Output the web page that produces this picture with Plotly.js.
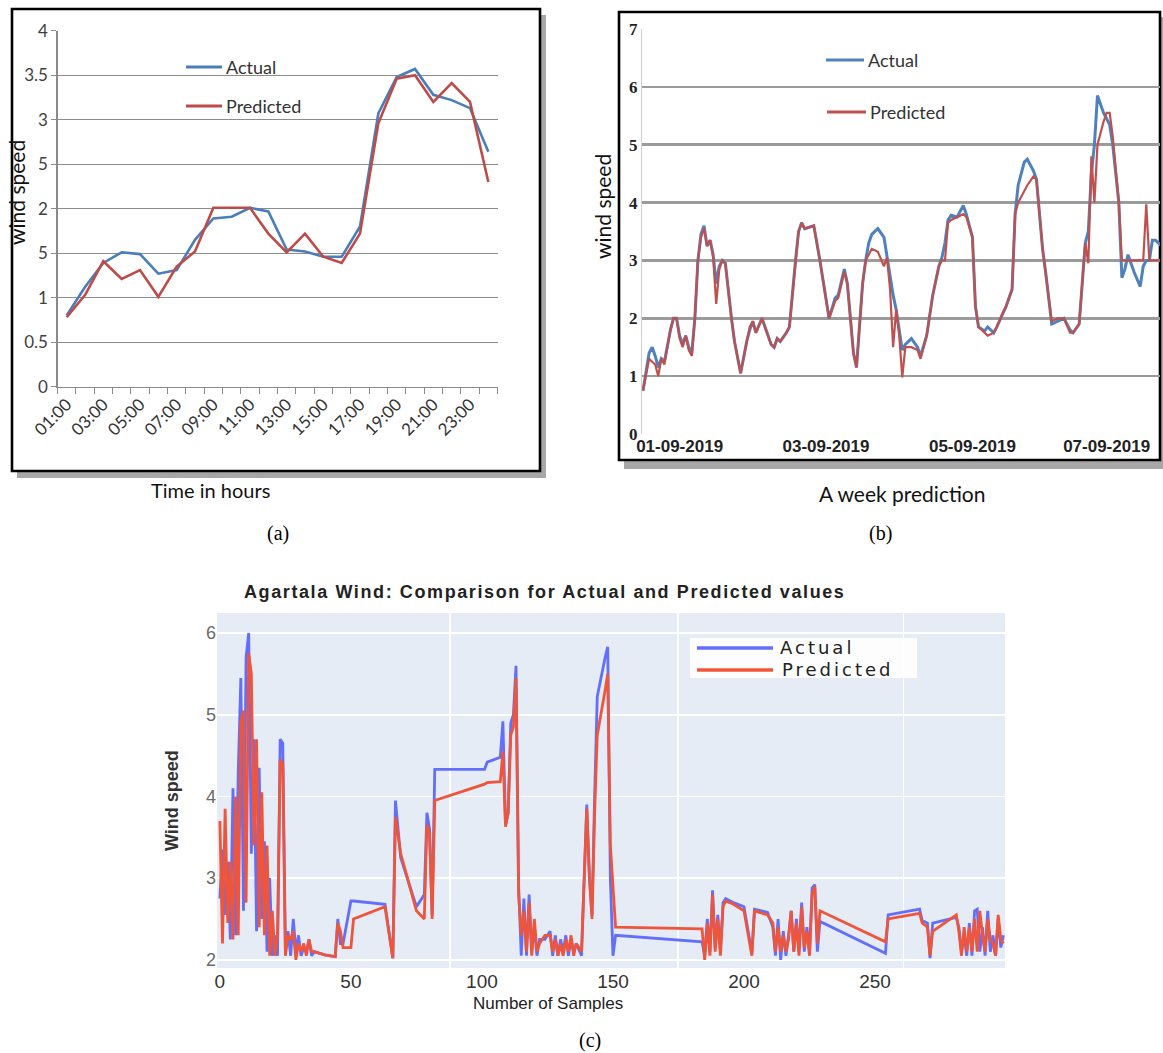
<!DOCTYPE html>
<html>
<head>
<meta charset="utf-8">
<script src="https://cdn.plot.ly/plotly-3.0.1.min.js"></script>
<style>html,body{margin:0;padding:0;background:#fff;}#chart{width:1163px;height:1053px;}</style>
</head>
<body>
<div id="chart"></div>
<script>
// ---------- Panel (a): one day, hourly ----------
const hourLabels = ["01:00","02:00","03:00","04:00","05:00","06:00","07:00","08:00","09:00","10:00","11:00","12:00",
                    "13:00","14:00","15:00","16:00","17:00","18:00","19:00","20:00","21:00","22:00","23:00","24:00"];
const aActual    = [0.80,1.12,1.39,1.51,1.49,1.27,1.31,1.65,1.89,1.91,2.01,1.97,
                    1.54,1.52,1.46,1.46,1.80,3.07,3.48,3.57,3.28,3.22,3.13,2.64];
const aPredicted = [0.78,1.03,1.41,1.21,1.31,1.01,1.35,1.52,2.01,2.01,2.01,1.72,
                    1.51,1.72,1.46,1.39,1.72,2.96,3.46,3.50,3.20,3.41,3.20,2.30];
const aYTickVals = [0,0.5,1,1.5,2,2.5,3,3.5,4];
const aYTickText = ["0","0.5","1","5","2","5","3","3.5","4"];

// ---------- Panel (b): a week, hour index ----------
const bHour = [0,2,3,4,5,6,7,9,10,11,
  12,13,14,15,16,17,18,19,20,21,
  22,23,24,25,26,27,29,30,32,34,
  35,36,37,39,42,43,44,45,47,48,
  50,51,52,53,56,58,61,62,63,64,
  66,67,69,70,72,73,74,75,77,79,
  80,81,82,83,84,85,86,88,90,91,
  93,95,97,98,99,100,101,103,105,106,
  108,109,110,112,113,115,116,118,119,121,
  122,123,125,126,128,129,131,132,134,136,
  138,140,141,143,145,146,147,148,149,151,
  152,153,154,156,157,158,159,161,163,164,
  165,166,167,168,170];
const bActual = [0.75,1.40,1.50,1.35,1.15,1.30,1.25,1.80,2.00,2.00,
  1.70,1.55,1.70,1.50,1.40,2.00,3.00,3.45,3.60,3.25,
  3.35,3.10,2.60,2.90,3.00,2.95,2.00,1.60,1.05,1.60,
  1.80,1.95,1.75,2.00,1.55,1.50,1.65,1.60,1.75,1.85,
  3.00,3.50,3.65,3.55,3.60,3.00,2.00,2.20,2.35,2.40,
  2.85,2.60,1.40,1.15,2.60,3.00,3.30,3.45,3.55,3.40,
  3.05,2.70,2.40,2.15,1.80,1.45,1.55,1.65,1.50,1.35,
  1.70,2.40,2.90,3.05,3.30,3.70,3.78,3.75,3.95,3.80,
  3.40,2.20,1.85,1.78,1.85,1.75,1.85,2.10,2.20,2.50,
  3.80,4.30,4.70,4.75,4.55,4.40,3.20,2.80,1.90,1.95,
  2.00,1.80,1.75,1.90,3.30,3.50,4.50,5.00,5.85,5.55,
  5.45,5.35,5.00,4.00,2.70,2.85,3.10,2.80,2.55,2.90,
  3.00,3.00,3.35,3.35,3.25];
const bPredicted = [0.75,1.30,1.25,1.20,1.00,1.30,1.20,1.80,2.00,2.00,
  1.65,1.50,1.70,1.45,1.35,2.00,3.00,3.40,3.55,3.25,
  3.35,3.05,2.25,2.85,3.00,2.95,2.00,1.60,1.05,1.60,
  1.85,1.95,1.75,2.00,1.55,1.50,1.65,1.60,1.75,1.85,
  3.00,3.50,3.65,3.55,3.60,3.00,2.00,2.15,2.30,2.35,
  2.80,2.60,1.40,1.15,2.60,3.00,3.10,3.20,3.15,2.90,
  3.05,2.50,1.50,2.15,1.70,0.98,1.50,1.50,1.45,1.30,
  1.70,2.40,2.90,3.00,3.00,3.65,3.70,3.75,3.80,3.75,
  3.40,2.20,1.85,1.75,1.70,1.75,1.85,2.10,2.20,2.50,
  3.80,4.00,4.20,4.30,4.45,4.40,3.20,2.80,1.95,2.00,
  2.00,1.75,1.75,1.90,3.30,2.95,4.80,4.00,5.00,5.40,
  5.55,5.55,5.15,4.00,3.00,3.00,3.00,3.00,3.00,3.00,
  3.97,3.00,3.00,3.00,3.00];
const bTickHours  = [12,60,108,152];
const bTickLabels = ["01-09-2019","03-09-2019","05-09-2019","07-09-2019"];

// ---------- Panel (c): Agartala samples ----------
const cSample = [0,1,2,3,4,5,6,7,8,9,
  10,11,12,13,14,15,16,17,18,19,
  20,21,22,23,24,25,26,27,28,29,
  30,31,32,33,34,35,36,38,40,44,
  45,46,47,50,51,63,66,67,68,69,
  75,78,79,80,81,82,101,102,107,108,
  109,110,111,112,113,114,115,116,117,118,
  119,120,121,122,124,126,127,128,129,130,
  131,132,133,134,135,136,138,140,141,142,
  143,144,147,148,149,150,151,184,185,186,
  187,188,189,190,191,192,193,196,200,203,
  204,209,211,212,213,214,215,216,217,218,
  219,220,221,222,223,224,225,226,227,228,
  229,254,255,267,268,270,271,272,281,282,
  283,284,285,286,287,288,289,290,291,292,
  293,294,295,296,297,298,299];
const cActual = [2.75,3.35,2.55,3.20,2.25,4.10,2.30,4.30,5.45,2.60,
  5.70,6.00,3.30,4.70,2.35,4.35,2.50,3.45,2.10,3.00,
  2.05,2.30,2.05,4.70,4.65,2.10,2.35,2.05,2.50,2.10,
  2.30,2.05,2.15,2.10,2.25,2.05,2.10,2.08,2.06,2.04,
  2.50,2.20,2.20,2.72,2.72,2.68,2.02,3.95,3.60,3.25,
  2.65,2.80,3.80,3.60,2.55,4.33,4.33,4.42,4.48,4.92,
  3.65,3.80,4.90,5.00,5.60,2.90,2.05,2.75,2.05,2.80,
  2.10,2.40,2.05,2.25,2.25,2.35,2.05,2.30,2.05,2.25,
  2.10,2.30,2.05,2.25,2.10,2.20,2.05,3.90,3.00,2.55,
  4.00,5.22,5.70,5.83,3.00,2.05,2.30,2.22,2.05,2.50,
  2.10,2.85,2.15,2.55,2.10,2.70,2.75,2.70,2.65,2.08,
  2.62,2.58,2.40,2.05,2.50,2.00,2.35,2.05,2.30,2.60,
  2.10,2.50,2.10,2.70,2.10,2.40,2.10,2.88,2.92,2.10,
  2.47,2.08,2.55,2.62,2.48,2.45,2.02,2.45,2.52,2.40,
  2.10,2.30,2.05,2.45,2.05,2.60,2.62,2.10,2.40,2.05,
  2.60,2.10,2.30,2.05,2.50,2.15,2.30];
const cPredicted = [3.70,2.20,3.85,2.45,3.20,2.25,4.00,2.30,4.90,5.05,
  2.70,5.75,5.50,3.40,4.70,2.40,4.05,2.30,3.40,2.05,
  2.60,2.05,2.30,4.45,4.40,2.05,2.30,2.25,2.35,2.00,
  2.20,2.10,2.20,2.05,2.25,2.10,2.10,2.08,2.06,2.04,
  2.45,2.35,2.15,2.15,2.50,2.65,2.02,3.75,3.55,3.30,
  2.60,2.50,3.65,3.55,2.50,3.95,4.15,4.17,4.18,4.55,
  3.63,3.80,4.75,4.85,5.45,2.80,2.30,2.60,2.10,2.70,
  2.05,2.50,2.10,2.20,2.30,2.30,2.10,2.25,2.05,2.20,
  2.05,2.25,2.10,2.30,2.05,2.20,2.10,3.85,3.05,2.50,
  3.80,4.75,5.30,5.50,3.40,2.90,2.40,2.38,2.00,2.45,
  2.05,2.80,2.10,2.50,2.05,2.65,2.72,2.68,2.60,2.05,
  2.60,2.55,2.45,2.10,2.40,2.10,2.30,2.10,2.25,2.60,
  2.10,2.45,2.05,2.65,2.15,2.35,2.05,2.80,2.90,2.20,
  2.60,2.22,2.50,2.57,2.45,2.40,2.05,2.35,2.55,2.35,
  2.05,2.40,2.10,2.40,2.10,2.50,2.10,2.60,2.30,2.10,
  2.50,2.25,2.20,2.05,2.55,2.25,2.20];
const cXTicks = [0,50,100,150,200,250];
const cYTicks = [2,3,4,5,6];

const seriesNames = ["Actual","Predicted"];
const cTitle = "Agartala Wind: Comparison for Actual and Predicted values";

// ---------- layout helpers ----------
const W = 1163, H = 1053;
const px = v => v / W;
const py = v => 1 - v / H;
const excelFont = "Lato, 'Open Sans', sans-serif";
const sansFont = "'Liberation Sans', Arial, sans-serif";
const serifFont = "'Liberation Serif', 'Times New Roman', serif";

const excelBlue = "#4A7EBB", excelRed = "#BE4B48";
const plotlyBlue = "#636EFA", plotlyRed = "#EF553B";

const aX = hourLabels.map((_, i) => i + 1);
const aTickIdx = aX.filter(v => v % 2 === 1);
const aTickTxt = aTickIdx.map(v => hourLabels[v - 1]);

const traces = [
  {x: aX, y: aActual, name: seriesNames[0], type: "scatter", mode: "lines", xaxis: "x", yaxis: "y",
   line: {color: excelBlue, width: 2.6}},
  {x: aX, y: aPredicted, name: seriesNames[1], type: "scatter", mode: "lines", xaxis: "x", yaxis: "y",
   line: {color: excelRed, width: 2.6}},
  {x: bHour, y: bActual, name: seriesNames[0], type: "scatter", mode: "lines", xaxis: "x2", yaxis: "y2",
   line: {color: "#4F81BD", width: 3}},
  {x: bHour, y: bPredicted, name: seriesNames[1], type: "scatter", mode: "lines", xaxis: "x2", yaxis: "y2",
   line: {color: "#C0504D", width: 2.2}},
  {x: cSample, y: cActual, name: seriesNames[0], type: "scatter", mode: "lines", xaxis: "x3", yaxis: "y3",
   line: {color: plotlyBlue, width: 2.8}},
  {x: cSample, y: cPredicted, name: seriesNames[1], type: "scatter", mode: "lines", xaxis: "x3", yaxis: "y3",
   line: {color: plotlyRed, width: 2.8}}
];

const cRange = [-1.1, 299.6];

function ann(text, x, y, font, extra) {
  return Object.assign({text: text, x: px(x), y: py(y), xref: "paper", yref: "paper", showarrow: false,
    xanchor: "center", yanchor: "middle", font: font}, extra || {});
}

const layout = {
  width: W, height: H,
  margin: {l: 0, r: 0, t: 0, b: 0},
  paper_bgcolor: "#ffffff",
  plot_bgcolor: "rgba(0,0,0,0)",
  showlegend: false,
  font: {family: excelFont, color: "#222"},
  // panel a
  xaxis: {
    domain: [px(57.5), px(497.5)], anchor: "y", range: [0.5, 24.5],
    tickmode: "array", tickvals: aTickIdx, ticktext: aTickTxt, tickangle: -45,
    ticks: "", showgrid: false, zeroline: false, showline: true, linecolor: "#8a8a8a", linewidth: 1.2,
    tickfont: {family: excelFont, size: 17, color: "#333"},
    minor: {ticks: "outside", ticklen: 6, tickcolor: "#8a8a8a", tickwidth: 1.2, tickmode: "linear", tick0: 0.5, dtick: 1, showgrid: false}
  },
  yaxis: {
    domain: [py(386.7), py(30.7)], anchor: "x", range: [0, 4],
    tickmode: "array", tickvals: aYTickVals, ticktext: aYTickText,
    showgrid: true, gridcolor: "#8c8c8c", gridwidth: 1.4, zeroline: false,
    showline: true, linecolor: "#8a8a8a", linewidth: 1.2,
    ticks: "outside", ticklen: 5, tickcolor: "#8a8a8a",
    tickfont: {family: excelFont, size: 17, color: "#404040"}
  },
  // panel b
  xaxis2: {
    domain: [px(642), px(1160)], anchor: "y2", range: [-0.33, 169.5],
    tickmode: "array", tickvals: bTickHours, ticktext: bTickLabels,
    ticks: "", showgrid: false, zeroline: false, showline: false,
    tickfont: {family: sansFont, size: 17, color: "#222", weight: "bold"}
  },
  yaxis2: {
    domain: [py(434), py(29)], anchor: "x2", range: [0, 7], dtick: 1, tick0: 0,
    showgrid: true, gridcolor: "#9b9b9b", gridwidth: 2.6, zeroline: false,
    showline: true, linecolor: "#d0d0d0", linewidth: 1,
    ticks: "",
    tickfont: {family: serifFont, size: 17, color: "#222", weight: "bold"}
  },
  // panel c
  xaxis3: {
    domain: [px(217), px(1005)], anchor: "y3", range: cRange,
    tickmode: "array", tickvals: cXTicks,
    ticks: "", showgrid: false, zeroline: false, showline: false,
    tickfont: {family: sansFont, size: 19, color: "#333"},
    minor: {tickmode: "array", tickvals: [87.8, 174.9, 260.8], ticks: "", showgrid: true, gridcolor: "#ffffff", gridwidth: 1.6}
  },
  yaxis3: {
    domain: [py(968), py(613)], anchor: "x3", range: [1.9, 6.245],
    tickmode: "array", tickvals: cYTicks,
    showgrid: true, gridcolor: "#ffffff", gridwidth: 1.6, zeroline: false, showline: false, ticks: "",
    tickfont: {family: sansFont, size: 18, color: "#6a6a6a"}
  },
  shapes: [
    // panel a frame + shadow
    {type: "rect", xref: "paper", yref: "paper", x0: px(17), x1: px(546), y0: py(478), y1: py(15),
     fillcolor: "#8a8a8a", line: {width: 0}, layer: "below", opacity: 0.75},
    {type: "rect", xref: "paper", yref: "paper", x0: px(12), x1: px(540), y0: py(471), y1: py(9),
     fillcolor: "#ffffff", line: {color: "#000", width: 2.6}, layer: "below"},
    // panel b frame + shadow
    {type: "rect", xref: "paper", yref: "paper", x0: px(624), x1: px(1166), y0: py(469), y1: py(17),
     fillcolor: "#8a8a8a", line: {width: 0}, layer: "below", opacity: 0.75},
    {type: "rect", xref: "paper", yref: "paper", x0: px(619), x1: px(1160), y0: py(460), y1: py(12),
     fillcolor: "#ffffff", line: {color: "#000", width: 2.6}, layer: "below"},
    // panel c plot background
    {type: "rect", xref: "paper", yref: "paper", x0: px(217), x1: px(1005), y0: py(968), y1: py(613),
     fillcolor: "#E5ECF6", line: {width: 0}, layer: "below"},
    // legend keys a
    {type: "line", xref: "paper", yref: "paper", x0: px(186), x1: px(222), y0: py(67), y1: py(67), line: {color: excelBlue, width: 3}},
    {type: "line", xref: "paper", yref: "paper", x0: px(186), x1: px(222), y0: py(106), y1: py(106), line: {color: excelRed, width: 3}},
    // legend keys b
    {type: "line", xref: "paper", yref: "paper", x0: px(826), x1: px(864), y0: py(60), y1: py(60), line: {color: "#4F81BD", width: 3}},
    {type: "line", xref: "paper", yref: "paper", x0: px(827), x1: px(866), y0: py(112), y1: py(112), line: {color: "#C0504D", width: 3}},
    // legend c box + keys
    {type: "rect", xref: "paper", yref: "paper", x0: px(690), x1: px(917), y0: py(678), y1: py(638),
     fillcolor: "rgba(255,255,255,0.9)", line: {width: 0}},
    {type: "line", xref: "paper", yref: "paper", x0: px(697), x1: px(773), y0: py(648), y1: py(648), line: {color: plotlyBlue, width: 3.5}},
    {type: "line", xref: "paper", yref: "paper", x0: px(697), x1: px(773), y0: py(670), y1: py(670), line: {color: plotlyRed, width: 3.5}}
  ],
  annotations: [
    // panel a
    ann("wind speed", 16, 193, {family: excelFont, size: 21, color: "#111"}, {textangle: -90}),
    ann("Time in hours", 210, 490, {family: excelFont, size: 20, color: "#111"}),
    ann(seriesNames[0], 224, 67, {family: excelFont, size: 18, color: "#333"}, {xanchor: "left"}),
    ann(seriesNames[1], 224, 106, {family: excelFont, size: 18, color: "#333"}, {xanchor: "left"}),
    ann("(a)", 278, 533, {family: serifFont, size: 20, color: "#000"}),
    // panel b
    ann("wind speed", 603, 207, {family: excelFont, size: 21, color: "#111"}, {textangle: -90}),
    ann("A week prediction", 902, 493, {family: excelFont, size: 21, color: "#111"}),
    ann(seriesNames[0], 866, 60, {family: excelFont, size: 18, color: "#333"}, {xanchor: "left"}),
    ann(seriesNames[1], 868, 112, {family: excelFont, size: 18, color: "#333"}, {xanchor: "left"}),
    ann("(b)", 880, 533, {family: serifFont, size: 20, color: "#000"}),
    // panel c
    ann("<b><span style='letter-spacing:1.6px'>" + cTitle + "</span></b>", 544, 592, {family: sansFont, size: 18, color: "#222"}),
    ann("<b>Wind speed</b>", 172, 800, {family: sansFont, size: 18, color: "#333"}, {textangle: -90}),
    ann("Number of Samples", 548, 1003, {family: sansFont, size: 17, color: "#222"}),
    ann("<span style='letter-spacing:3px'>" + seriesNames[0] + "</span>", 778, 647,
        {family: "'DejaVu Sans', sans-serif", size: 18, color: "#222"}, {xanchor: "left"}),
    ann("<span style='letter-spacing:3px'>" + seriesNames[1] + "</span>", 780, 669,
        {family: "'DejaVu Sans', sans-serif", size: 18, color: "#222"}, {xanchor: "left"}),
    ann("(c)", 590, 1040, {family: serifFont, size: 20, color: "#000"})
  ]
};

Plotly.newPlot("chart", traces, layout, {staticPlot: true, displayModeBar: false});
</script>
</body>
</html>
